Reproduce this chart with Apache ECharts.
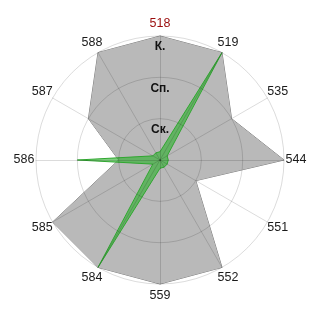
<!DOCTYPE html>
<html><head><meta charset="utf-8">
<script src="https://cdn.jsdelivr.net/npm/echarts@6/dist/echarts.min.js"></script>
<style>html,body{margin:0;padding:0;background:#fff}#c{width:320px;height:320px}</style>
</head><body><div id="c"></div>
<script>
// clockwise from top
const categories = ['518','519','535','544','551','552','559','584','585','586','587','588'];
const levelLabels = ['', 'Ск.', 'Сп.', 'К.'];
const grayValues  = [3, 3, 2, 3, 1, 3, 3, 3, 3, 1, 2, 3];
const greenValues = [0.2, 3, 0.2, 0.2, 0.2, 0.2, 0.2, 3, 0.2, 2, 0.2, 0.2];
const highlighted = '518';

// ECharts radar runs counter-clockwise: keep first, reverse the rest
const order = [0].concat(categories.map((_, i) => i).slice(1).reverse());
const indicator = order.map((i, k) => {
  const ind = { name: categories[i], min: 0, max: 3 };
  if (categories[i] === highlighted) ind.color = '#9b0d0d';
  if (k === 0) {
    ind.axisLabel = {
      show: true, showMinLabel: false,
      formatter: v => levelLabels[v] || '',
      color: '#111', fontWeight: 'bold', fontSize: 12,
      fontFamily: 'Liberation Sans, Arial, sans-serif',
      align: 'center', verticalAlign: 'top', margin: 0, rotate: 0, padding: [5, 0, 0, 0]
    };
  }
  return ind;
});
const reorder = arr => order.map(i => arr[i]);

const chart = echarts.init(document.getElementById('c'));
chart.setOption({
  animation: false,
  radar: {
    center: ['50%', '50%'],
    radius: 124,
    startAngle: 90,
    splitNumber: 3,
    shape: 'circle',
    nameGap: 12,
    z: 10,
    axisName: { color: '#1a1a1a', fontSize: 12.5, fontFamily: 'Liberation Sans, Arial, sans-serif', align: 'center', verticalAlign: 'middle' },
    splitLine: { lineStyle: { color: 'rgba(0,0,0,0.14)', width: 1 } },
    axisLine: { lineStyle: { color: 'rgba(0,0,0,0.14)', width: 1 } },
    splitArea: { show: false },
    axisTick: { show: false },
    axisLabel: { show: false },
    indicator: indicator
  },
  series: [{
    type: 'radar',
    symbol: 'none',
    silent: true,
    data: [
      { value: reorder(grayValues), lineStyle: { color: '#7a7a7a', width: 1 }, areaStyle: { color: '#b9b9b9', opacity: 1 } },
      { value: reorder(greenValues), lineStyle: { color: '#36a336', width: 1 }, areaStyle: { color: 'rgb(40,175,40)', opacity: 0.6 } }
    ]
  }]
});
</script></body></html>
